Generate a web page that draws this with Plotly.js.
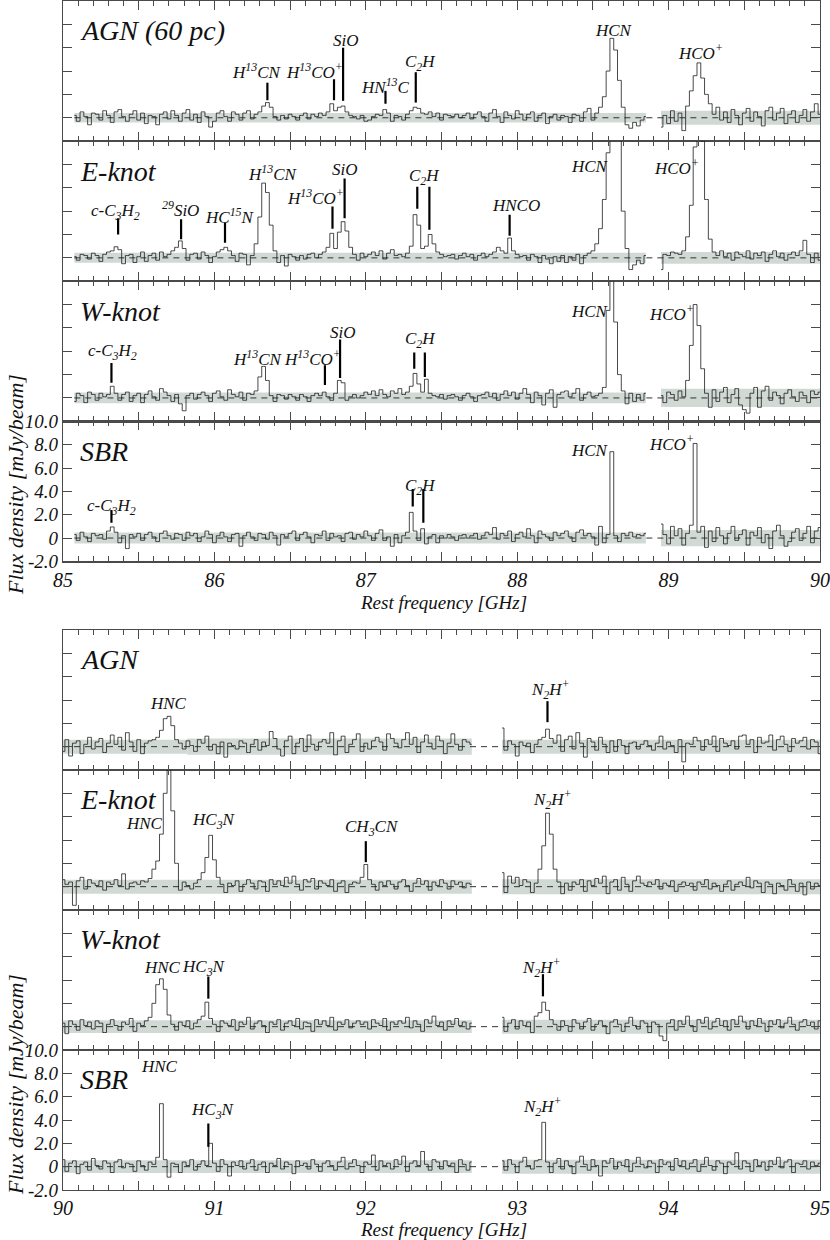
<!DOCTYPE html>
<html>
<head>
<meta charset="utf-8">
<script src="https://cdn.plot.ly/plotly-3.0.1.min.js"></script>
<style>
  html, body { margin: 0; padding: 0; background: #fff; }
  #chart { width: 830px; height: 1240px; }
</style>
</head>
<body>
<div id="chart"></div>
<script>
// ---- channel grid (GHz) ----
const chanWidth = 0.025;
const groupRange = [[85, 90], [90, 95]];
const segStart = [[85.075, 88.95], [90.0, 92.9]];

// ---- spectra, mJy/beam (upper group: 85-90 GHz) ----
const agnTopL = [0.2,-0.3,0.5,0.1,-0.6,0.4,0.3,-0.2,0.6,0.2,
  -0.4,0.5,0.7,0.1,-0.3,0.3,0.6,-0.2,0.4,-0.5,
  0.2,0.1,-0.6,0.3,0.5,-0.1,0.6,0.2,-0.3,0.4,
  0.7,-0.2,0.3,-0.4,0.5,0.1,-0.8,-0.3,0.4,0.6,
  0.1,-0.3,0.5,0.3,-0.2,0.4,0.6,-0.1,0.3,0.5,
  1.0,1.3,0.9,0.1,-0.2,0.2,-0.1,0.3,0.1,-0.2,
  0.2,0.4,-0.1,0.3,0.1,0.4,0.2,0.5,1.2,0.6,
  0.9,1.0,0.5,0.2,0.1,-0.1,0.2,-0.3,-0.2,0.1,
  0.3,0.2,0.7,0.4,-0.3,0.2,0.1,-0.2,0.3,0.6,
  0.9,0.8,0.4,0.3,0.5,0.1,0.4,-0.2,0.3,0.2,
  0.1,0.3,0.0,0.2,0.4,-0.1,0.3,0.5,0.1,-0.3,
  0.4,0.7,0.1,-0.4,0.5,0.2,-0.1,0.6,0.3,-0.2,
  0.3,0.5,-0.3,0.2,0.4,-0.5,0.1,0.3,-0.2,0.2,
  0.1,-0.4,0.3,0.2,-0.3,0.5,0.8,-0.2,0.4,0.9,
  1.8,4.0,6.8,5.8,3.2,0.9,-0.6,-0.9,-0.4,-0.7,
  -0.2,0.1];
const agnTopR = [-0.8,0.2,-0.5,0.6,-0.3,0.4,-1.1,1.0,2.3,3.6,
  4.7,3.4,2.0,1.2,0.3,0.9,-0.2,0.5,-0.4,0.7,
  0.2,-0.6,0.4,0.8,-0.3,0.5,0.1,-0.7,0.6,0.9,
  -0.2,0.4,0.8,-0.5,0.3,0.6,-0.4,0.2,0.7,-0.3,
  0.5,1.2,0.3];
const eTopL = [0.1,-0.2,0.3,0.2,-0.1,0.4,0.2,-0.3,0.3,0.5,
  0.6,0.95,0.7,-0.5,0.2,0.3,-0.4,0.1,0.5,-0.3,
  0.2,0.4,-0.2,0.5,0.1,0.3,0.6,0.9,1.45,0.8,
  -0.2,0.3,0.4,-0.1,0.5,0.2,-0.4,0.1,0.5,0.7,
  0.9,0.6,0.2,-0.3,0.4,0.3,-0.6,0.2,1.2,3.5,
  6.4,5.6,2.8,0.6,-0.4,0.2,-0.7,0.3,0.1,-0.2,
  0.2,-0.1,0.3,0.4,0.0,0.3,0.5,0.9,2.1,0.8,
  2.2,3.1,2.3,0.9,0.3,-0.2,0.4,0.1,0.3,0.5,
  0.2,0.6,-0.1,0.4,0.7,0.2,0.3,0.1,0.4,1.0,
  3.7,2.8,0.8,1.0,2.0,1.2,0.5,0.3,0.1,0.2,
  0.3,-0.1,0.2,0.4,0.1,0.3,-0.2,0.2,0.4,0.1,
  0.3,0.5,0.9,0.6,0.4,1.7,0.6,0.3,0.1,0.2,
  -0.2,0.3,0.1,-0.4,0.2,-0.1,-0.5,0.1,-0.3,0.2,
  -0.4,0.1,-0.2,0.3,-0.5,0.2,0.4,0.6,1.2,2.5,
  5.0,9.0,13.0,13.0,10.5,4.0,0.8,-1.0,-0.6,-0.2,
  -0.5,0.2];
const eTopR = [-1.0,0.3,0.2,0.5,0.4,0.3,0.6,1.8,4.5,9.5,
  12.5,10.0,5.0,1.6,0.5,0.2,0.6,0.1,0.4,-0.2,
  0.5,0.3,0.1,0.6,-0.1,0.4,0.2,0.5,-0.3,0.3,
  0.6,0.1,0.4,-0.2,0.3,0.5,0.2,0.6,1.5,0.3,
  -0.4,0.4,-0.2];
const wTopL = [-0.3,0.4,0.2,-0.4,0.5,0.3,-0.2,0.4,0.1,0.3,
  1.0,0.4,-0.2,0.3,0.5,-0.3,0.2,0.4,-0.4,0.3,
  0.6,0.1,-0.2,0.8,0.5,0.2,-0.3,0.3,-0.5,-1.1,
  0.2,0.4,-0.1,0.3,0.5,0.2,-0.3,0.4,0.6,0.1,
  -0.2,0.7,0.3,0.1,0.5,-0.2,0.4,0.3,0.6,1.8,
  2.7,1.5,0.2,-0.3,0.3,0.2,-0.1,0.3,0.1,-0.2,
  0.3,0.1,-0.3,0.2,0.4,0.2,0.5,0.1,-0.2,0.4,
  1.5,1.3,-0.2,0.1,0.3,0.0,0.2,0.5,0.3,0.6,
  0.2,0.7,0.3,0.1,0.6,0.4,0.8,0.3,0.5,1.0,
  2.1,1.2,0.5,1.6,0.4,0.2,0.1,0.3,-0.1,0.2,
  0.3,0.1,-0.2,0.2,0.4,0.1,-0.3,0.2,0.3,0.5,
  0.1,0.4,-0.2,0.3,0.6,0.2,0.5,-0.1,0.4,0.8,
  0.3,-0.4,0.5,0.2,-0.6,0.4,0.7,-0.8,0.3,0.5,
  0.6,0.1,0.4,0.8,-0.2,0.3,0.5,0.1,0.2,0.4,
  0.9,7.5,13.0,6.5,2.0,0.6,-0.5,0.4,-0.3,0.3,
  -0.2,0.4];
const wTopR = [0.2,-0.4,0.5,0.3,-0.2,0.6,0.1,1.5,4.5,8.0,
  6.2,2.5,0.4,-0.8,0.7,-0.3,0.5,0.9,-0.4,0.3,
  0.8,-0.6,-1.0,-1.3,0.4,0.9,-0.8,0.6,1.0,-0.2,
  0.5,0.2,-0.5,0.4,0.7,0.1,-0.3,0.5,0.2,-0.4,
  0.6,0.3,0.5];
const sbrTopL = [0.3,-0.2,0.5,0.1,-0.3,0.4,0.2,0.3,-0.1,0.6,
  0.95,0.5,-0.4,0.2,-0.9,0.3,0.1,0.4,-0.2,0.3,
  0.5,0.1,-0.3,0.4,0.6,0.2,-0.1,0.4,0.3,-0.2,
  0.5,0.2,0.4,-0.3,0.1,0.6,0.3,-0.4,0.2,0.5,
  0.1,-0.3,0.3,0.4,-0.7,0.2,0.5,0.1,-0.2,0.4,
  0.3,-0.1,0.5,0.2,-0.6,0.3,0.1,0.4,0.6,-0.2,
  0.3,0.5,0.1,-0.4,0.3,0.2,0.6,-0.2,0.4,0.1,
  0.2,-0.3,0.4,0.5,-0.1,0.3,0.1,0.6,0.2,-0.2,
  0.4,0.7,-0.2,0.1,-0.7,0.3,-0.4,0.2,0.5,2.2,
  0.6,-0.2,0.8,-0.5,0.1,0.3,-0.4,0.2,0.0,0.3,
  0.1,-0.2,0.2,0.3,0.0,0.2,0.4,-0.1,0.2,0.5,
  0.3,0.9,-0.1,0.4,0.2,0.6,-0.3,0.3,0.5,0.1,
  0.8,0.2,-0.4,0.6,0.3,0.1,-0.2,0.5,0.2,0.4,
  0.6,0.1,-0.3,0.5,0.7,0.2,0.4,0.1,-0.6,1.0,
  -0.4,0.3,7.4,0.2,-0.3,0.4,0.2,0.5,0.1,0.3,
  0.2,0.4];
const sbrTopR = [1.2,0.3,-0.5,1.0,0.2,0.8,-0.6,0.4,1.1,8.1,
  0.5,1.0,-0.8,0.6,-0.3,0.9,0.2,-0.5,0.4,1.0,
  -0.2,0.3,0.7,-0.6,0.5,0.2,0.9,-0.4,0.3,-0.9,
  0.6,1.1,0.2,-0.7,-0.3,0.5,0.8,-0.2,0.4,1.0,
  -0.4,0.6,0.9];

// ---- spectra, mJy/beam (lower group: 90-95 GHz) ----
const agnBotL = [-0.4,0.6,-0.8,0.3,0.5,-0.6,0.2,0.8,-0.2,0.4,
  0.7,-0.5,0.3,1.0,0.2,0.8,-0.3,1.2,0.4,-0.4,
  0.6,-0.6,0.3,0.5,0.6,0.8,1.4,2.4,2.6,1.8,
  0.6,0.3,-0.2,0.5,0.1,-0.4,0.6,0.3,0.9,-0.3,
  0.2,-0.6,0.4,-0.9,0.3,0.1,-0.2,0.5,0.3,-0.5,
  0.2,0.6,-0.3,0.4,0.1,1.3,0.7,-0.2,-0.8,0.5,
  0.9,-0.6,0.3,0.7,-0.4,1.0,0.2,-0.3,0.4,0.6,
  0.3,1.2,-0.7,0.5,0.9,-0.5,0.2,0.6,1.1,-0.4,
  0.3,-0.2,0.5,0.8,0.4,-0.3,1.1,0.7,0.3,-0.1,
  0.6,1.2,0.2,0.8,-0.5,0.4,1.0,0.3,-0.2,0.9,
  0.5,-0.6,0.3,1.1,0.2,-0.3,0.6,0.4,0.2];
const agnBotR = [1.6,-0.3,0.5,0.2,-0.8,0.4,0.1,0.3,-0.5,0.2,
  0.6,0.8,1.5,0.7,0.3,1.0,-0.4,0.6,0.9,-0.2,
  1.2,0.3,-0.9,0.7,0.4,-0.3,0.8,0.2,-0.5,0.5,
  -0.4,0.6,0.1,-0.6,0.3,0.4,-0.2,0.2,0.5,0.1,
  -0.3,0.3,0.9,-0.2,0.4,0.1,-0.5,0.6,-1.3,0.3,
  0.2,0.8,0.5,-0.3,0.6,0.2,0.9,-0.4,0.7,0.3,
  0.1,0.5,-0.2,0.9,1.0,0.2,0.6,-0.5,0.8,0.3,
  0.4,1.0,-0.3,0.6,0.9,0.2,-0.4,0.7,0.3,0.5,
  0.8,-0.2,0.6,0.4,-0.6];
const eBotL = [0.6,0.2,0.4,-1.6,0.5,0.8,-0.2,0.6,0.3,0.1,
  0.5,-0.3,0.4,0.2,0.6,0.1,1.1,-0.2,0.3,0.4,
  0.2,0.5,0.4,0.7,1.5,2.2,4.5,8.0,10.0,6.5,
  2.0,-0.3,0.4,0.1,-0.2,0.3,0.6,1.2,2.5,4.4,
  2.3,0.8,0.2,-0.5,0.3,0.1,0.5,-0.4,0.2,0.6,
  0.3,-0.2,0.5,0.4,-0.4,0.6,0.2,0.5,0.1,0.8,
  0.3,0.9,0.2,-0.3,0.6,0.4,0.7,-0.2,0.5,0.3,
  0.1,0.6,-0.4,0.3,0.5,-0.5,0.2,0.4,0.3,0.8,
  1.9,0.6,0.2,-0.3,0.4,0.1,0.5,0.2,-0.2,0.4,
  0.6,0.1,-0.4,0.3,0.7,0.2,0.5,-0.3,0.4,0.1,
  0.6,0.3,-0.2,0.5,0.2,0.4,-0.1,0.3,0.2];
const eBotR = [1.2,-0.5,0.9,0.3,0.8,0.1,0.6,0.4,-0.5,0.3,
  1.5,3.5,6.3,4.5,1.5,0.4,-0.6,0.3,-0.3,0.4,
  0.2,0.6,-0.4,0.5,0.1,0.7,0.3,0.9,-0.6,0.4,
  0.6,-0.3,0.8,0.2,-0.4,0.5,0.9,0.3,0.1,0.4,
  0.2,0.6,-0.2,0.3,0.1,0.5,-0.4,0.2,0.4,0.1,
  0.3,-0.3,0.4,0.2,0.6,-0.2,0.3,0.1,-0.4,0.2,
  0.5,-0.3,0.2,0.4,0.1,0.8,-0.1,0.5,0.3,-0.5,
  0.4,0.2,-0.6,0.3,0.1,-0.3,0.6,0.2,-0.4,0.3,
  -0.7,0.4,-0.2,0.3,0.1];
const wBotL = [0.3,-0.6,0.5,0.2,-0.3,0.6,0.1,0.4,-0.2,0.5,
  0.3,-0.5,0.2,0.6,0.1,-0.3,0.4,0.2,0.7,-0.4,
  0.3,0.1,0.5,0.8,2.0,3.6,4.1,3.2,1.0,0.2,
  -0.3,0.4,0.1,0.5,-0.2,0.3,0.6,0.9,2.1,0.7,
  0.2,-0.4,0.5,0.3,0.1,0.6,-0.3,0.4,0.2,0.8,
  -0.2,0.3,0.5,0.1,-0.5,0.4,0.2,0.6,-0.3,0.3,
  0.5,0.1,0.7,-0.2,0.4,0.3,-0.4,0.6,0.2,0.5,
  0.1,0.8,-0.3,0.4,0.2,0.6,-0.1,0.3,0.5,0.2,
  0.4,-0.2,0.6,0.3,0.1,0.7,-0.3,0.4,0.2,0.5,
  0.3,0.8,-0.1,0.5,0.2,-0.4,0.6,0.3,0.9,0.1,
  0.4,-0.3,0.5,0.2,0.7,0.1,0.4,-0.2,0.3];
const wBotR = [0.8,-0.4,0.3,0.6,-0.2,0.5,0.1,0.4,-0.5,0.9,
  1.2,2.1,1.4,0.6,0.2,-0.3,0.5,0.1,-0.4,0.6,
  0.3,-0.2,0.4,0.7,-0.3,0.2,0.5,0.1,-0.6,0.4,
  0.6,0.2,-0.4,0.3,0.8,0.1,-0.2,0.5,0.3,-0.5,
  0.4,0.2,-0.8,-1.2,0.3,0.6,-0.3,0.5,0.2,0.9,
  0.1,-0.4,0.6,0.3,0.8,-0.2,0.4,0.7,0.1,0.5,
  -0.3,0.6,0.2,0.9,0.4,-0.2,0.5,0.1,0.7,0.3,
  -0.4,0.5,0.2,0.6,-0.1,0.3,0.8,0.2,-0.3,0.4,
  0.6,0.1,0.4,-0.2,0.5];
const sbrBotL = [0.6,-0.4,0.3,0.5,-0.6,0.2,0.4,-0.3,0.7,0.1,
  -0.2,0.5,0.3,-0.5,0.4,0.6,-0.1,0.3,0.2,-0.4,
  0.5,0.1,-0.3,0.4,0.2,0.8,5.4,0.6,-0.9,0.3,
  0.2,-0.5,0.4,0.1,0.6,-0.3,0.2,0.5,0.1,2.0,
  0.3,-0.4,0.6,0.2,-0.8,0.4,0.1,0.5,-0.2,0.3,
  0.6,-0.3,0.2,0.4,-0.5,0.3,0.1,0.7,-0.2,0.4,
  0.2,-0.6,0.5,0.1,0.3,-0.2,0.6,0.2,-0.4,0.3,
  0.5,0.1,-0.3,0.4,0.8,-0.2,0.3,0.6,0.1,-0.5,
  0.4,0.2,1.0,-0.3,0.5,0.1,0.3,-0.2,0.6,0.2,
  0.9,-0.4,0.3,0.5,0.1,1.3,0.2,-0.3,0.6,0.4,
  -0.2,0.5,0.1,0.3,-0.5,0.6,0.2,-0.3,0.4];
const sbrBotR = [0.5,-0.3,0.6,0.2,-0.5,0.4,0.8,0.1,-0.2,0.5,
  0.6,3.8,0.4,-0.5,0.3,0.7,-0.2,0.5,0.1,-0.6,
  0.4,0.9,0.2,-0.3,0.6,0.1,-0.8,0.5,0.3,0.7,
  -0.2,0.4,0.1,0.6,-0.4,0.3,0.8,0.2,-0.1,0.5,
  0.3,-0.5,0.6,0.2,0.4,-0.3,0.7,0.1,0.5,-0.2,
  0.3,0.6,-0.4,0.2,0.8,0.1,-0.3,0.5,0.3,-0.6,
  0.4,0.2,1.2,-0.2,0.5,0.3,-0.4,0.6,0.1,0.4,
  -0.3,0.5,0.2,0.8,-0.1,0.4,0.6,-0.5,0.3,0.2,
  0.5,-0.2,0.4,0.1,0.3];

const panelSpectra = [
  [agnTopL, agnTopR], [eTopL, eTopR], [wTopL, wTopR], [sbrTopL, sbrTopR],
  [agnBotL, agnBotR], [eBotL, eBotR], [wBotL, wBotR], [sbrBotL, sbrBotR]
];
const panelNames = ['AGN (60 pc)', 'E-knot', 'W-knot', 'SBR', 'AGN', 'E-knot', 'W-knot', 'SBR'];

// ---- 1-sigma noise bands ----
const bandEdges = [
  [[85.075, 88.85], [88.95, 90.0]],
  [[90.0, 90.82], [90.82, 92.7], [92.9, 95.0]]
];
const bandSigma = [
  [0.4, 0.6], [0.43, 0.5], [0.46, 0.78], [0.47, 0.7],
  [0.6, 0.7, 0.6], [0.6, 0.6, 0.64], [0.55, 0.55, 0.6], [0.55, 0.55, 0.6]
];

// ---- line identifications ----
const lblPanel = [0,0,0,0,0,0,0, 1,1,1,1,1,1,1,1,1,1, 2,2,2,2,2,2,2, 3,3,3,3, 4,4, 5,5,5,5, 6,6,6, 7,7,7];
const lblText = [
  'H<sup>13</sup>CN', 'H<sup>13</sup>CO<sup>+</sup>', 'SiO', 'HN<sup>13</sup>C', 'C<sub>2</sub>H', 'HCN', 'HCO<sup>+</sup>',
  'c-C<sub>3</sub>H<sub>2</sub>', '<sup>29</sup>SiO', 'HC<sup>15</sup>N', 'H<sup>13</sup>CN', 'H<sup>13</sup>CO<sup>+</sup>', 'SiO', 'C<sub>2</sub>H', 'HNCO', 'HCN', 'HCO<sup>+</sup>',
  'c-C<sub>3</sub>H<sub>2</sub>', 'H<sup>13</sup>CN', 'H<sup>13</sup>CO<sup>+</sup>', 'SiO', 'C<sub>2</sub>H', 'HCN', 'HCO<sup>+</sup>',
  'c-C<sub>3</sub>H<sub>2</sub>', 'C<sub>2</sub>H', 'HCN', 'HCO<sup>+</sup>',
  'HNC', 'N<sub>2</sub>H<sup>+</sup>',
  'HNC', 'HC<sub>3</sub>N', 'CH<sub>3</sub>CN', 'N<sub>2</sub>H<sup>+</sup>',
  'HNC', 'HC<sub>3</sub>N', 'N<sub>2</sub>H<sup>+</sup>',
  'HNC', 'HC<sub>3</sub>N', 'N<sub>2</sub>H<sup>+</sup>'
];
const lblX = [86.28, 86.66, 86.87, 87.13, 87.36, 88.64, 89.21,
  85.35, 85.775, 86.10, 86.39, 86.67, 86.86, 87.39, 87.99, 88.48, 89.05,
  85.33, 86.29, 86.65, 86.85, 87.36, 88.48, 89.02,
  85.32, 87.36, 88.48, 89.02,
  90.70, 93.22,
  90.54, 91.0, 92.04, 93.23,
  90.66, 90.93, 93.16,
  90.64, 90.99, 93.17];
const lblY = [4.0, 4.0, 6.6, 2.7, 4.7, 7.5, 5.6,
  3.9, 4.2, 3.6, 7.3, 5.2, 7.6, 6.9, 4.5, 7.8, 7.8,
  3.9, 3.4, 3.4, 5.6, 5.0, 7.4, 7.3,
  2.7, 4.4, 7.5, 8.1,
  3.7, 4.9,
  5.4, 5.6, 5.0, 7.5,
  5.1, 5.0, 5.1,
  8.6, 4.8, 5.2];

const tickPanel = [0,0,0,0,0, 1,1,1,1,1,1,1,1, 2,2,2,2,2, 3,3,3, 4, 5, 6,6, 7];
const tickX = [86.35, 86.79, 86.85, 87.13, 87.33,
  85.364, 85.78, 86.07, 86.78, 86.86, 87.34, 87.42, 87.95,
  85.32, 86.73, 86.83, 87.32, 87.39,
  85.32, 87.31, 87.38,
  93.2, 92.0, 90.96, 93.17, 90.96];
const tickLo = [1.5, 1.5, 1.45, 1.2, 1.3,
  2.0, 1.6, 1.3, 2.5, 3.4, 4.2, 2.4, 1.9,
  1.3, 1.1, 1.7, 2.5, 1.8,
  1.3, 2.7, 1.3,
  2.1, 2.1, 2.4, 2.6, 1.7];
const tickHi = [3.0, 3.3, 6.0, 2.3, 3.9,
  3.4, 3.3, 3.0, 4.4, 6.8, 6.1, 6.1, 3.7,
  3.0, 2.8, 5.0, 3.9, 3.9,
  2.4, 4.2, 4.2,
  3.9, 3.9, 4.3, 4.5, 3.7];

// ---- page geometry (pixels of the 830x1240 figure) ----
const FONT = 'Liberation Serif';
const FRAME = '#4a4a4a';
const plotTop = 1, plotBottom = 1192;
const groupTop = [1, 630];
const panelH = [140.1, 140.0];
const paperY = py => (plotBottom - py) / (plotBottom - plotTop);
const serif = size => ({ family: FONT, size: size, color: '#111' });
const it = s => '<i>' + s + '</i>';

const layout = {
  width: 830, height: 1240,
  margin: { l: 63, r: 10, t: plotTop, b: 1240 - plotBottom },
  paper_bgcolor: '#fff', plot_bgcolor: 'rgba(0,0,0,0)',
  showlegend: false,
  font: serif(14),
  shapes: [], annotations: []
};
const data = [];

for (let p = 0; p < 8; p++) {
  const g = p < 4 ? 0 : 1, k = p % 4;
  const top = groupTop[g] + k * panelH[g], bot = top + panelH[g];
  const sfx = p === 0 ? '' : String(p + 1);
  const xa = 'x' + sfx, ya = 'y' + sfx;

  // major ticks every 0.5 GHz, labels on whole GHz
  const majVals = [], majText = [];
  for (let v = groupRange[g][0]; v <= groupRange[g][1] + 1e-9; v += 0.5) {
    majVals.push(v);
    majText.push(Number.isInteger(v) ? it(String(v)) : ' ');
  }

  layout['xaxis' + sfx] = {
    anchor: ya, domain: [0, 1], range: groupRange[g],
    tickmode: 'array', tickvals: majVals, ticktext: majText,
    showticklabels: k === 3, ticklabeloverflow: 'allow',
    ticks: 'inside', ticklen: 9, tickwidth: 1, tickcolor: FRAME,
    minor: { ticks: 'inside', ticklen: 5, tickwidth: 1, tickcolor: FRAME, tickmode: 'linear', tick0: groupRange[g][0], dtick: 0.1 },
    showline: true, linecolor: FRAME, linewidth: 1.2, mirror: 'ticks',
    showgrid: false, zeroline: false,
    tickfont: serif(20)
  };
  layout['yaxis' + sfx] = {
    anchor: xa, domain: [paperY(bot), paperY(top)], range: [-2, 10],
    tickmode: 'array', tickvals: [-2, 0, 2, 4, 6, 8, 10],
    ticktext: ['-2.0', '0', '2.0', '4.0', '6.0', '8.0', '10.0'].map(it),
    showticklabels: k === 3, ticklabeloverflow: 'allow',
    ticks: 'inside', ticklen: 9, tickwidth: 1, tickcolor: FRAME,
    showline: true, linecolor: FRAME, linewidth: 1.2, mirror: 'ticks',
    showgrid: false, zeroline: false,
    tickfont: serif(19)
  };

  // noise bands
  bandEdges[g].forEach((e, j) => {
    layout.shapes.push({
      type: 'rect', layer: 'below', xref: xa, yref: ya,
      x0: e[0], x1: e[1], y0: -bandSigma[p][j], y1: bandSigma[p][j],
      fillcolor: 'rgb(209,217,213)', line: { width: 0 }
    });
  });
  // dashed zero level
  layout.shapes.push({
    type: 'line', layer: 'below', xref: xa, yref: ya,
    x0: bandEdges[g][0][0], x1: groupRange[g][1], y0: 0, y1: 0,
    line: { color: '#333', width: 1, dash: '6px,5px' }
  });

  // spectra
  panelSpectra[p].forEach((flux, j) => {
    data.push({
      type: 'scatter', mode: 'lines', xaxis: xa, yaxis: ya,
      x0: segStart[g][j], dx: chanWidth, y: flux,
      line: { shape: 'hvh', color: '#1c1c1c', width: 0.8 },
      hoverinfo: 'skip'
    });
  });

  // panel name
  layout.annotations.push({
    xref: xa + ' domain', yref: ya + ' domain', x: 0.02, y: 0.786,
    xanchor: 'left', yanchor: 'middle', showarrow: false,
    text: it(panelNames[p]), font: serif(28)
  });
}

// line labels
lblText.forEach((t, i) => {
  const sfx = lblPanel[i] === 0 ? '' : String(lblPanel[i] + 1);
  layout.annotations.push({
    xref: 'x' + sfx, yref: 'y' + sfx, x: lblX[i], y: lblY[i],
    xanchor: 'center', yanchor: 'middle', showarrow: false,
    text: it(t), font: serif(17)
  });
});
// marker bars
tickX.forEach((x, i) => {
  const sfx = tickPanel[i] === 0 ? '' : String(tickPanel[i] + 1);
  layout.shapes.push({
    type: 'line', xref: 'x' + sfx, yref: 'y' + sfx,
    x0: x, x1: x, y0: tickLo[i], y1: tickHi[i],
    line: { color: '#000', width: 2.2 }
  });
});

// axis titles
const xTitleY = [602, 1229];
const yTitleY = [485, 1085];
[0, 1].forEach(g => {
  layout.annotations.push({
    xref: 'paper', yref: 'paper', x: (443 - 63) / 757, y: paperY(xTitleY[g]),
    xanchor: 'center', yanchor: 'middle', showarrow: false,
    text: it('Rest frequency [GHz]'), font: serif(19)
  });
  layout.annotations.push({
    xref: 'paper', yref: 'paper', x: (15 - 63) / 757, y: paperY(yTitleY[g]),
    xanchor: 'center', yanchor: 'middle', showarrow: false, textangle: -90,
    text: it('Flux density [mJy/beam]'), font: serif(22)
  });
});

Plotly.newPlot('chart', data, layout, { displayModeBar: false, staticPlot: true });
</script>
</body>
</html>
